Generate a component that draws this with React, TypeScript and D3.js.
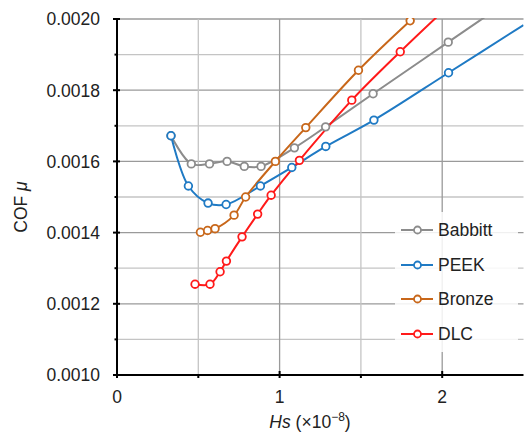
import React, { useEffect, useRef } from 'react';
import * as d3 from 'd3';

// Hs (×10^-8) and COF values
const babbittHs = [0.332, 0.457, 0.569, 0.677, 0.783, 0.886, 1.091, 1.283, 1.575, 2.037, 2.5];
const babbittCof = [0.001672, 0.001593, 0.001593, 0.0016, 0.001586, 0.001586, 0.001638, 0.001697, 0.00179, 0.001935, 0.00208];

const peekHs = [0.332, 0.439, 0.56, 0.671, 0.882, 1.075, 1.284, 1.58, 2.039, 2.5];
const peekCof = [0.001672, 0.001531, 0.001483, 0.001479, 0.001531, 0.001583, 0.001642, 0.001716, 0.001849, 0.001983];

const bronzeHs = [0.513, 0.557, 0.603, 0.72, 0.791, 0.974, 1.161, 1.485, 1.803];
const bronzeCof = [0.001401, 0.001406, 0.001411, 0.001449, 0.0015, 0.0016, 0.001695, 0.001856, 0.001995];

const dlcHs = [0.48, 0.572, 0.634, 0.673, 0.769, 0.865, 0.948, 1.122, 1.444, 1.742, 2.0];
const dlcCof = [0.001255, 0.001255, 0.00129, 0.00132, 0.001388, 0.001452, 0.001505, 0.001603, 0.001772, 0.001908, 0.00202];

const seriesNames = ['Babbitt', 'PEEK', 'Bronze', 'DLC'];
const seriesColors = ['#8c8c8c', '#1f7ac4', '#c8671a', '#ff1a1a'];

const xTicks = [0, 1, 2];
const yTicks = [0.001, 0.0012, 0.0014, 0.0016, 0.0018, 0.002];

const W = 530;
const H = 434;
const margin = { top: 19, right: 6.5, bottom: 59, left: 117 };
const FONT = '"Liberation Sans", Arial, sans-serif';

const App: React.FC = () => {
  const svgRef = useRef<SVGSVGElement>(null);

  useEffect(() => {
    if (!svgRef.current) return;
    const svg = d3.select(svgRef.current);
    svg.selectAll('*').remove();

    const innerWidth = W - margin.left - margin.right;
    const innerHeight = H - margin.top - margin.bottom;

    const x = d3.scaleLinear().domain([0, 2.5]).range([0, innerWidth]);
    const y = d3.scaleLinear().domain([0.001, 0.002]).range([innerHeight, 0]);

    const g = svg.append('g').attr('transform', `translate(${margin.left},${margin.top})`);

    // grid lines
    const minorY = d3.range(0.0011, 0.00201, 0.0001);
    g.append('g')
      .selectAll('line')
      .data(minorY)
      .enter().append('line')
      .attr('x1', 0)
      .attr('x2', innerWidth)
      .attr('y1', d => y(d))
      .attr('y2', d => y(d))
      .attr('stroke', (d, i) => (i % 2 === 1 ? '#9a9a9a' : '#c4c4c4'))
      .attr('stroke-width', 1.3);

    const gridX = [0.5, 1, 1.5, 2];
    g.append('g')
      .selectAll('line')
      .data(gridX)
      .enter().append('line')
      .attr('x1', d => x(d))
      .attr('x2', d => x(d))
      .attr('y1', 0)
      .attr('y2', innerHeight)
      .attr('stroke', (d, i) => (i % 2 === 1 ? '#9a9a9a' : '#c4c4c4'))
      .attr('stroke-width', 1.3);

    // series
    const clipId = 'plot-clip';
    svg.append('defs').append('clipPath').attr('id', clipId)
      .append('rect').attr('x', 0).attr('y', -1).attr('width', innerWidth).attr('height', innerHeight + 1);

    const allHs = [babbittHs, peekHs, bronzeHs, dlcHs];
    const allCof = [babbittCof, peekCof, bronzeCof, dlcCof];

    const line = d3.line<[number, number]>()
      .x(d => x(d[0]))
      .y(d => y(d[1]))
      .curve(d3.curveCatmullRom.alpha(0.5));

    const plot = g.append('g').attr('clip-path', `url(#${clipId})`);

    allHs.forEach((hs, si) => {
      const pts: [number, number][] = hs.map((h, i) => [h, allCof[si][i]]);
      plot.append('path')
        .datum(pts)
        .attr('fill', 'none')
        .attr('stroke', seriesColors[si])
        .attr('stroke-width', 2)
        .attr('d', line);
    });

    allHs.forEach((hs, si) => {
      const pts: [number, number][] = hs.map((h, i) => [h, allCof[si][i]]);
      plot.selectAll(`.dot-${si}`)
        .data(pts.filter(p => p[1] <= 0.002 && p[0] < 2.45))
        .enter().append('circle')
        .attr('class', `dot-${si}`)
        .attr('cx', d => x(d[0]))
        .attr('cy', d => y(d[1]))
        .attr('r', 3.8)
        .attr('fill', '#fff')
        .attr('stroke', seriesColors[si])
        .attr('stroke-width', 1.8);
    });

    // axes
    const yAxis = g.append('g');
    yAxis.append('line')
      .attr('x1', 0).attr('x2', 0).attr('y1', 0).attr('y2', innerHeight)
      .attr('stroke', '#000').attr('stroke-width', 2);
    yAxis.selectAll('.ymaj')
      .data(yTicks)
      .enter().append('line')
      .attr('x1', -4).attr('x2', 3)
      .attr('y1', d => y(d)).attr('y2', d => y(d))
      .attr('stroke', '#000').attr('stroke-width', 2);
    yAxis.selectAll('.ymin')
      .data(d3.range(0.0011, 0.002, 0.0002))
      .enter().append('line')
      .attr('x1', -2.5).attr('x2', 1)
      .attr('y1', d => y(d)).attr('y2', d => y(d))
      .attr('stroke', '#000').attr('stroke-width', 2);
    yAxis.selectAll('text')
      .data(yTicks)
      .enter().append('text')
      .attr('x', -17)
      .attr('y', d => y(d))
      .attr('dy', '0.36em')
      .attr('text-anchor', 'end')
      .style('font-family', FONT)
      .style('font-size', '17.5px')
      .attr('fill', '#222')
      .text(d => d.toFixed(4));

    const xAxis = g.append('g').attr('transform', `translate(0,${innerHeight})`);
    xAxis.append('line')
      .attr('x1', 0).attr('x2', innerWidth)
      .attr('stroke', '#000').attr('stroke-width', 2);
    xAxis.selectAll('.xmaj')
      .data(xTicks)
      .enter().append('line')
      .attr('x1', d => x(d)).attr('x2', d => x(d))
      .attr('y1', -4).attr('y2', 3)
      .attr('stroke', '#000').attr('stroke-width', 2);
    xAxis.selectAll('.xmin')
      .data([0.5, 1.5])
      .enter().append('line')
      .attr('x1', d => x(d)).attr('x2', d => x(d))
      .attr('y1', 0).attr('y2', 3)
      .attr('stroke', '#000').attr('stroke-width', 2);
    xAxis.selectAll('text')
      .data(xTicks)
      .enter().append('text')
      .attr('x', d => x(d))
      .attr('y', 28)
      .attr('text-anchor', 'middle')
      .style('font-family', FONT)
      .style('font-size', '17.5px')
      .attr('fill', '#222')
      .text(d => String(d));

    // axis titles
    const xt = svg.append('text')
      .attr('x', 310)
      .attr('y', 428)
      .attr('text-anchor', 'middle')
      .style('font-family', FONT)
      .style('font-size', '17.5px')
      .attr('fill', '#222');
    xt.append('tspan').style('font-style', 'italic').text('Hs');
    xt.append('tspan').text(' (×10');
    xt.append('tspan').attr('dy', -7).style('font-size', '12px').text('−8');
    xt.append('tspan').attr('dy', 7).text(')');

    const yt = svg.append('text')
      .attr('transform', `translate(27,207) rotate(-90)`)
      .attr('text-anchor', 'middle')
      .style('font-family', FONT)
      .style('font-size', '17.5px')
      .attr('fill', '#222');
    yt.append('tspan').text('COF ');
    yt.append('tspan').style('font-style', 'italic').text('μ');

    // legend
    const lg = svg.append('g');
    lg.append('rect')
      .attr('x', 395).attr('y', 212).attr('width', 123).attr('height', 140)
      .attr('fill', '#fff').attr('opacity', 0.85);
    const legendY = [230, 265, 299, 334];
    seriesNames.forEach((name, i) => {
      lg.append('line')
        .attr('x1', 401).attr('x2', 433)
        .attr('y1', legendY[i]).attr('y2', legendY[i])
        .attr('stroke', seriesColors[i]).attr('stroke-width', 2);
      lg.append('circle')
        .attr('cx', 417.5).attr('cy', legendY[i]).attr('r', 3.5)
        .attr('fill', '#fff').attr('stroke', seriesColors[i]).attr('stroke-width', 1.8);
      lg.append('text')
        .attr('x', 438).attr('y', legendY[i]).attr('dy', '0.36em')
        .style('font-family', FONT)
        .style('font-size', '17.5px')
        .attr('fill', '#222')
        .text(name);
    });
  }, []);

  return (
    <div style={{ position: 'absolute', left: 0, top: 0 }}>
      <svg ref={svgRef} width={W} height={H} style={{ display: 'block', background: '#fff' }} />
    </div>
  );
};

export default App;
